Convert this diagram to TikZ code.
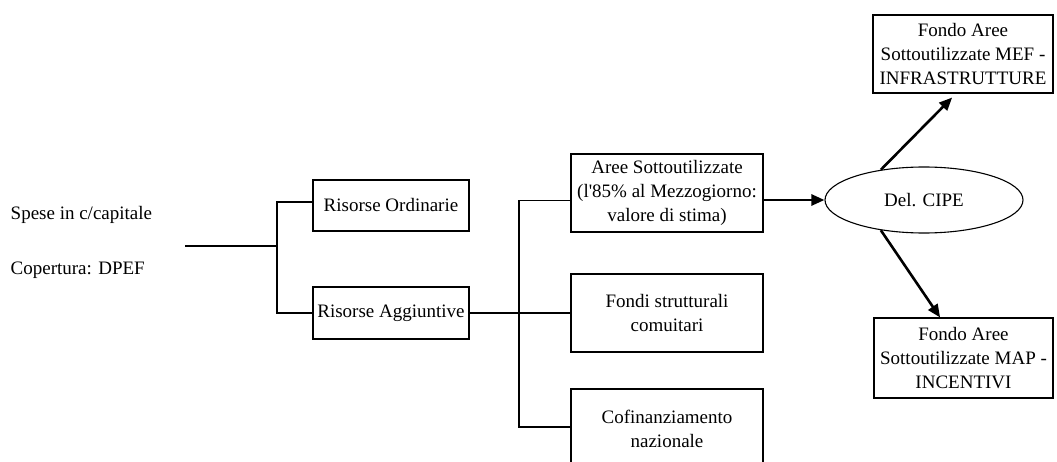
\documentclass[tikz,border=0pt]{standalone}
\usepackage{fontspec}
\setmainfont{Liberation Serif}
\usetikzlibrary{arrows.meta,shapes.geometric,calc}
\begin{document}
\begin{tikzpicture}[x=1pt,y=-1pt,
  every node/.style={font=\fontsize{19}{24}\selectfont},
  box/.style={draw,line width=1.1pt,inner sep=0pt,align=center},
  lbl/.style={anchor=west,inner sep=0pt},
  conn/.style={line width=1.1pt},
  bigarrow/.style={line width=2.6pt,-{Triangle[length=13pt,width=11pt]}}]
\useasboundingbox (0,0) rectangle (1057,462);
\clip (0,0) rectangle (1057,462);
% left texts
\node[lbl] (spese) at (10.5,215) {Spese in c/capitale};
\node[lbl] (cop) at (10.5,270) {Copertura: DPEF};
% boxes
\node[box,minimum width=156,minimum height=51] (ord) at (391,205.5) {Risorse Ordinarie};
\node[box,minimum width=156,minimum height=52] (agg) at (391,313) {Risorse Aggiuntive};
\node[box,minimum width=192,minimum height=78] (aree) at (667,193) {Aree Sottoutilizzate\\(l\textquotesingle 85\% al Mezzogiorno:\\valore di stima)};
\node[box,minimum width=192,minimum height=78] (fondi) at (667,313) {Fondi strutturali\\comuitari};
\node[box,minimum width=192,minimum height=80] (cofin) at (667,429) {Cofinanziamento\\nazionale};
\node[draw,ellipse,line width=1.1pt,inner sep=0pt,minimum width=198,minimum height=66] (cipe) at (924,200) {Del. CIPE};
\node[box,minimum width=180,minimum height=78] (mef) at (963,54) {Fondo Aree\\Sottoutilizzate MEF -\\INFRASTRUTTURE};
\node[box,minimum width=179,minimum height=80] (map) at (963.5,358) {Fondo Aree\\Sottoutilizzate MAP -\\INCENTIVI};
% tree connectors
\coordinate (start) at (185,246);
\coordinate (j1) at (277,246);
\coordinate (j2) at (519,313);
\draw[conn] (start) -- (j1);
\draw[conn] ($(ord.west)+(0,-3.5)$) -| (j1) |- (agg.west);
\draw[conn] ($(aree.west)+(0,7.5)$) -| (j2) |- ($(cofin.west)+(0,-2)$);
\draw[conn] (agg.east) -- (fondi.west);
% arrows
\draw[bigarrow] ($(aree.east)+(0,7)$) -- (cipe.west);
\draw[bigarrow] (cipe.145) -- ($($(mef.south west)!0.44!(mef.south east)$)+(0,4)$);
\draw[bigarrow] (cipe.215) -- ($(map.north west)!0.37!(map.north east)$);
\end{tikzpicture}
\end{document}
